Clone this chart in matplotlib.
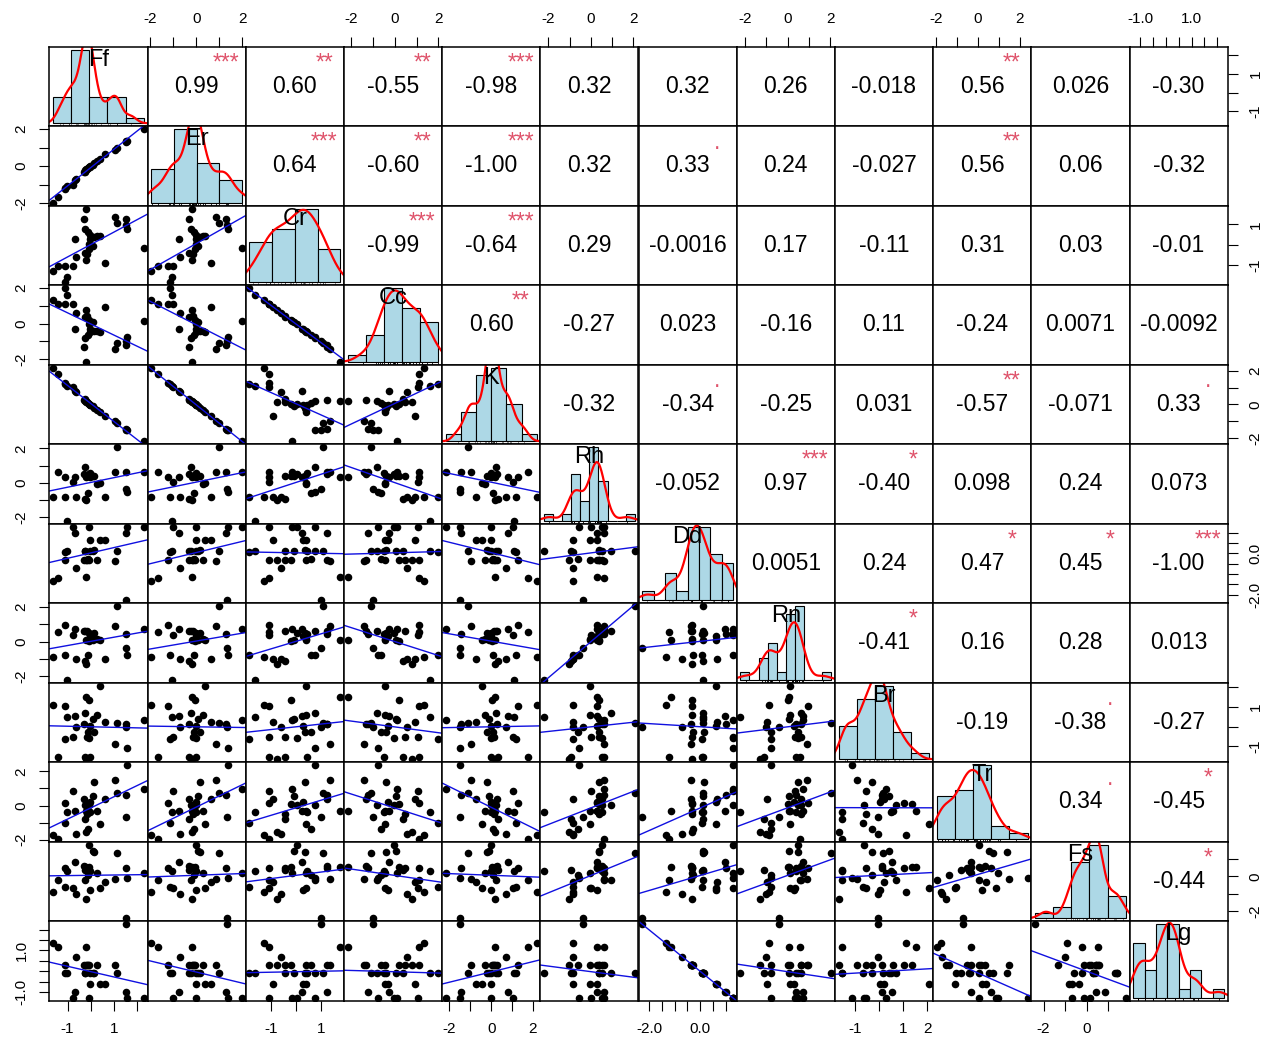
import numpy as np
import matplotlib
matplotlib.use("Agg")
import matplotlib.pyplot as plt
import matplotlib.transforms as mtransforms

plt.rcParams["font.family"] = ["Liberation Sans", "DejaVu Sans"]

names = ["Ff", "Er", "Cr", "Cc", "K", "Rh", "Dd", "Rn", "Br", "Tr", "Fs", "Lg"]

Ff = [-1.63, -1.42, -1.13, -1.09, -1.02, -0.75, -0.66, -0.63, -0.28, -0.27, -0.24, -0.21, -0.19, -0.16, -0.14,
      -0.09, -0.07, -0.04, -0.02, 0.10, 0.15, 0.25, 0.39, 0.62, 1.02, 1.14, 1.50, 1.52, 1.54, 2.28]
Er = [-1.97, -1.68, -1.23, -1.15, -1.05, -1.01, -0.76, -0.70, -0.30, -0.32, -0.22, -0.20, -0.18, -0.15, -0.12,
      -0.06, -0.03, -0.01, -0.02, 0.08, 0.16, 0.27, 0.38, 0.63, 0.86, 0.98, 1.31, 1.35, 1.37, 1.99]
Cr = [-1.28, -1.08, -1.08, -1.86, -1.62, -1.08, 0.26, -0.59, 1.25, -0.42, 0.76, 1.78, -0.75, -0.45, 0.62,
      -0.21, 0.04, 0.29, 0.46, -0.09, 0.37, 0.42, 0.42, -0.90, 1.35, 1.09, 1.25, 0.99, 0.76, -0.16]
Cc = [1.35, 1.10, 1.12, 2.00, 1.62, 1.08, -0.28, 0.58, -1.30, 0.40, -0.80, -2.15, 0.78, 0.45, -0.64,
      0.20, -0.02, -0.30, -0.48, 0.07, -0.40, -0.42, -0.46, 0.92, -1.42, -1.10, -1.22, -0.98, -0.76, 0.12]
K = [2.18, 1.78, 1.30, 1.21, 1.10, 1.06, 0.79, 0.73, 0.29, 0.32, 0.21, 0.19, 0.16, 0.13, 0.10,
     0.03, 0.00, -0.02, -0.01, -0.12, -0.20, -0.32, -0.44, -0.71, -0.96, -1.09, -1.44, -1.49, -1.51, -2.18]
Rh = [-0.85, 0.64, 0.31, -0.85, -2.21, 0.02, 0.31, -0.85, 0.50, -0.95, 0.93, 0.31, -1.01, 0.40, -0.62,
      0.40, 0.50, 0.31, 0.54, 0.40, 0.40, -0.05, -0.02, -0.85, 0.64, 2.07, 0.60, -0.37, -0.56, 0.60]
Dd = [-1.34, -1.20, -0.30, 0.08, 0.12, 1.27, 0.98, -0.70, -0.34, 0.10, 0.13, -1.15, -0.31, -0.33, -0.29,
      -0.32, 1.29, 0.64, 0.09, 0.11, 0.14, -0.30, 0.63, 0.65, -0.35, 0.12, 1.00, -2.27, 1.27, 1.28]
Rn = [-0.89, 0.57, 0.94, -0.77, -2.21, 0.36, 0.74, -1.02, 0.61, -1.12, 0.61, 0.09, -1.31, 0.61, -0.79,
      0.03, 0.51, 0.32, 0.42, 0.09, 0.51, 0.14, 0.10, -0.98, 0.90, 2.05, 0.42, -0.39, -0.79, 0.74]
Br = [1.12, -1.53, 1.04, -0.64, 0.49, -0.55, 0.54, -0.03, 0.14, -1.53, 0.71, 1.52, -1.67, -0.55, -0.30,
      1.35, -0.60, 0.05, -1.53, 0.40, -0.29, 0.60, 2.09, 0.23, -0.89, 0.17, 0.14, -0.03, -1.10, 0.31]
Tr = [-1.73, -1.95, 0.14, -1.05, -0.37, 0.87, -0.31, -1.69, 0.36, -0.80, 0.06, -0.31, -1.53, -0.51, -1.39,
      0.08, 0.05, 0.20, -0.40, 0.55, 1.37, -0.30, -1.08, 0.40, 1.48, 0.74, 0.64, -0.68, 2.37, 0.95]
Fs = [-0.91, -0.21, 0.46, -0.60, 0.32, -0.66, 0.85, -1.01, 0.58, 0.40, -0.20, 0.52, -1.31, 0.46, 0.10,
      0.55, 1.83, -0.80, 0.30, 1.44, 1.40, 0.20, -0.66, -0.33, -0.13, 1.34, 0.46, -2.40, -0.11, 0.18]
Lg = [1.34, 1.18, 0.32, -0.11, -0.11, -1.28, -1.00, 0.68, 0.32, -0.11, -0.11, 1.15, 0.32, 0.32, 0.32,
      0.32, -1.28, -0.64, -0.11, -0.11, -0.11, 0.32, -0.64, -0.64, 0.32, -0.11, -1.00, 2.27, -1.28, -1.28]

cols = [Ff, Er, Cr, Cc, K, Rh, Dd, Rn, Br, Tr, Fs, Lg]

# correlation labels shown in the upper panels, row by row
cor_text = [
    ["0.99", "0.60", "-0.55", "-0.98", "0.32", "0.32", "0.26", "-0.018", "0.56", "0.026", "-0.30"],
    ["0.64", "-0.60", "-1.00", "0.32", "0.33", "0.24", "-0.027", "0.56", "0.06", "-0.32"],
    ["-0.99", "-0.64", "0.29", "-0.0016", "0.17", "-0.11", "0.31", "0.03", "-0.01"],
    ["0.60", "-0.27", "0.023", "-0.16", "0.11", "-0.24", "0.0071", "-0.0092"],
    ["-0.32", "-0.34", "-0.25", "0.031", "-0.57", "-0.071", "0.33"],
    ["-0.052", "0.97", "-0.40", "0.098", "0.24", "0.073"],
    ["0.0051", "0.24", "0.47", "0.45", "-1.00"],
    ["-0.41", "0.16", "0.28", "0.013"],
    ["-0.19", "-0.38", "-0.27"],
    ["0.34", "-0.45"],
    ["-0.44"],
]
cor_sig = [
    ["***", "**", "**", "***", "", "", "", "", "**", "", ""],
    ["***", "**", "***", "", ".", "", "", "**", "", ""],
    ["***", "***", "", "", "", "", "", "", ""],
    ["**", "", "", "", "", "", "", ""],
    ["", ".", "", "", "**", "", "."],
    ["", "***", "*", "", "", ""],
    ["", "", "*", "*", "***"],
    ["*", "", "", ""],
    ["", ".", ""],
    [".", "*"],
    ["*"],
]

# axis ticks and the labels R kept (blank = tick without label)
ticks = [
    [-1, 0, 1, 2], [-2, -1, 0, 1, 2], [-1, 0, 1], [-2, -1, 0, 1, 2], [-2, -1, 0, 1, 2], [-2, -1, 0, 1, 2],
    [-2, -1.5, -1, -0.5, 0, 0.5, 1], [-2, -1, 0, 1, 2], [-1, 0, 1, 2], [-2, -1, 0, 1, 2], [-2, -1, 0, 1, 2],
    [-1, -0.5, 0, 0.5, 1, 1.5, 2],
]
tick_labels_h = [
    ["-1", "", "1", ""], ["-2", "", "0", "", "2"], ["-1", "", "1"], ["-2", "", "0", "", "2"],
    ["-2", "", "0", "", "2"], ["-2", "", "0", "", "2"], ["-2.0", "", "", "", "0.0", "", ""],
    ["-2", "", "0", "", "2"], ["-1", "", "1", "2"], ["-2", "", "0", "", "2"], ["-2", "", "0", "", "2"],
    ["-1.0", "", "", "", "1.0", "", ""],
]
tick_labels_v = [
    ["-1", "", "1", ""], ["-2", "", "0", "", "2"], ["-1", "", "1"], ["-2", "", "0", "", "2"],
    ["-2", "", "0", "", "2"], ["-2", "", "0", "", "2"], ["-2.0", "", "", "", "0.0", "", ""],
    ["-2", "", "0", "", "2"], ["-1", "", "1", ""], ["-2", "", "0", "", "2"], ["-2", "", "0", "", "2"],
    ["-1.0", "", "", "", "1.0", "", ""],
]
hist_step = [1, 1, 1, 1, 1, 0.5, 0.5, 0.5, 1, 1, 1, 0.5]


def draw_hist(ax, x, step, label):
    br = np.arange(np.floor(x.min() / step) * step, np.ceil(x.max() / step) * step + step / 2, step)
    idx = np.clip(np.searchsorted(br, x, side="left") - 1, 0, len(br) - 2)
    counts = np.bincount(idx, minlength=len(br) - 1)
    dens = counts / (len(x) * step)
    ax.bar(br[:-1], dens, width=step, align="edge", color="#ADD8E6", edgecolor="black", linewidth=0.8)
    # gaussian kernel density, bandwidth as R's bw.nrd0
    q75, q25 = np.percentile(x, [75, 25])
    bw = 0.9 * min(x.std(ddof=1), (q75 - q25) / 1.34) * len(x) ** -0.2
    grid = np.linspace(x.min() - 3 * bw, x.max() + 3 * bw, 512)
    kd = np.exp(-0.5 * ((grid[:, None] - x[None, :]) / bw) ** 2).sum(1) / (len(x) * bw * np.sqrt(2 * np.pi))
    ax.plot(grid, kd, color="red", lw=1.6)
    trans = mtransforms.blended_transform_factory(ax.transData, ax.transAxes)
    ax.vlines(x, 0, 0.03, transform=trans, color="black", lw=0.6)
    span = br[-1] - br[0]
    ax.set_xlim(br[0] - 0.04 * span, br[-1] + 0.04 * span)
    ym = dens.max()
    ax.set_ylim(-0.04 * ym, 1.04 * ym)
    ax.text(0.5, 0.833, label, transform=ax.transAxes, ha="center", va="center", fontsize=17)


lims = []
for v in cols:
    v = np.asarray(v)
    pad = 0.04 * (v.max() - v.min())
    lims.append((v.min() - pad, v.max() + pad))

fig = plt.figure(figsize=(12.73, 10.43), dpi=100)
X0, Y0, PW, PH = 49.3, 46.7, 98.2, 79.5
tick_kw = dict(direction="out", length=7, width=0.8, pad=8, labelsize=11)

for i in range(12):
    for j in range(12):
        ax = fig.add_axes([(X0 + j * PW) / 1273, 1 - (Y0 + (i + 1) * PH) / 1043, PW / 1273, PH / 1043])
        for s in ax.spines.values():
            s.set_linewidth(1.1)
        ax.set_xticks([])
        ax.set_yticks([])
        x = np.asarray(cols[j], dtype=float)
        y = np.asarray(cols[i], dtype=float)
        if i == j:
            draw_hist(ax, x, hist_step[i], names[i])
            continue
        if i > j:
            ax.scatter(x, y, s=30, c="black", linewidths=0)
            b, a = np.polyfit(x, y, 1)
            xx = np.array(lims[j])
            ax.plot(xx, a + b * xx, color="#1010E0", lw=1)
        else:
            k = j - i - 1
            ax.text(0.5, 0.5, cor_text[i][k], transform=ax.transAxes, ha="center", va="center", fontsize=16.5)
            ax.text(0.8, 0.8, cor_sig[i][k], transform=ax.transAxes, ha="center", va="center",
                    fontsize=16.5, color="#DF536B")
        # outer axes, alternating sides as in R's pairs()
        if i == 0 and j % 2 == 1:
            ax.set_xticks(ticks[j])
            ax.set_xticklabels(tick_labels_h[j])
            ax.xaxis.set_ticks_position("top")
            ax.tick_params(axis="x", **tick_kw)
        if i == 11 and j % 2 == 0:
            ax.set_xticks(ticks[j])
            ax.set_xticklabels(tick_labels_h[j])
            ax.tick_params(axis="x", **tick_kw)
        if j == 0 and i % 2 == 1:
            ax.set_yticks(ticks[i])
            ax.set_yticklabels(tick_labels_v[i], rotation=90, va="center")
            ax.tick_params(axis="y", **tick_kw)
        if j == 11 and i % 2 == 0:
            ax.set_yticks(ticks[i])
            ax.set_yticklabels(tick_labels_v[i], rotation=90, va="center")
            ax.yaxis.set_ticks_position("right")
            ax.tick_params(axis="y", **tick_kw)
        ax.set_xlim(lims[j])
        ax.set_ylim(lims[i])

fig.savefig("out.png", dpi=100)
